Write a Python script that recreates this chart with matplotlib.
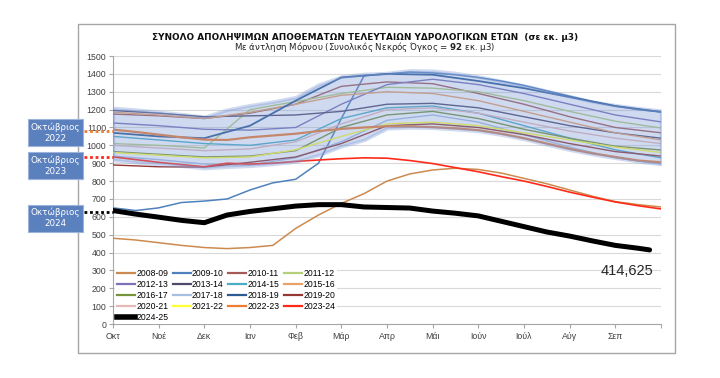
import numpy as np
import matplotlib
matplotlib.use("Agg")
import matplotlib.pyplot as plt
from matplotlib.patches import Rectangle
from matplotlib.lines import Line2D
import matplotlib.transforms as mtransforms

# ---------------- data ----------------
month_labels = ["Οκτ", "Νοέ", "Δεκ", "Ιαν", "Φεβ", "Μάρ", "Απρ", "Μάι", "Ιούν", "Ιούλ", "Αύγ", "Σεπ"]
months = list(range(13))                       # monthly grid (Oct 1 .. Sep 30)
half = [i * 0.5 for i in range(25)]            # half-month grid

band_high = [1210, 1200, 1188, 1175, 1160, 1200, 1225, 1245, 1270, 1340, 1385, 1400, 1405,
             1420, 1418, 1405, 1385, 1360, 1335, 1305, 1275, 1245, 1225, 1208, 1195]
band_low = [918, 905, 895, 885, 872, 880, 885, 895, 910, 945, 995, 1030, 1095,
            1100, 1098, 1090, 1080, 1060, 1035, 1005, 975, 950, 930, 910, 895]

y2008_09 = [480, 470, 455, 440, 428, 422, 428, 440, 535, 610, 675, 730, 800,
            840, 862, 872, 865, 845, 815, 785, 750, 715, 685, 668, 655]
y2009_10 = [650, 635, 650, 680, 688, 700, 750, 790, 810, 900, 1150, 1390, 1400,
            1410, 1405, 1395, 1380, 1360, 1335, 1305, 1275, 1245, 1220, 1200, 1187]
y2022_23 = [1088, 1075, 1060, 1045, 1032, 1030, 1045, 1055, 1065, 1080, 1092, 1100, 1107,
            1106, 1102, 1095, 1085, 1065, 1040, 1010, 980, 955, 935, 915, 905]
y2023_24 = [935, 920, 905, 892, 880, 900, 895, 900, 910, 918, 925, 930, 928,
            915, 898, 875, 852, 825, 800, 770, 738, 710, 683, 662, 644]
x2024_25 = [0, 0.5, 1, 1.5, 2, 2.5, 3, 3.5, 4, 4.5, 5, 5.5, 6, 6.5, 7, 7.5, 8,
            8.5, 9, 9.5, 10, 10.5, 11, 11.5, 11.75]
y2024_25 = [635, 615, 598, 580, 567, 610, 630, 645, 660, 668, 668, 655, 652,
            649, 632, 620, 605, 575, 545, 515, 492, 465, 440, 424, 414.625]

y2010_11 = [1175, 1165, 1150, 1180, 1230, 1330, 1355, 1345, 1290, 1230, 1160, 1100, 1070]
y2011_12 = [1010, 1000, 985, 1200, 1245, 1290, 1325, 1320, 1300, 1250, 1190, 1135, 1097]
y2012_13 = [1125, 1110, 1090, 1085, 1100, 1230, 1340, 1370, 1340, 1290, 1230, 1170, 1131]
y2013_14 = [1195, 1180, 1160, 1165, 1170, 1190, 1230, 1235, 1210, 1160, 1110, 1070, 1040]
y2014_15 = [1050, 1030, 1010, 1000, 1030, 1150, 1210, 1220, 1180, 1110, 1040, 975, 930]
y2015_16 = [1185, 1170, 1150, 1185, 1230, 1280, 1300, 1290, 1250, 1190, 1130, 1070, 1030]
y2016_17 = [965, 950, 935, 940, 970, 1100, 1170, 1190, 1150, 1090, 1040, 995, 974]
y2017_18 = [940, 920, 895, 890, 930, 1020, 1140, 1170, 1130, 1060, 990, 930, 895]
y2018_19 = [1070, 1050, 1040, 1110, 1250, 1380, 1400, 1395, 1360, 1320, 1270, 1220, 1187]
y2019_20 = [890, 880, 878, 905, 935, 1010, 1110, 1120, 1100, 1060, 1010, 965, 940]
y2020_21 = [1000, 985, 970, 980, 1020, 1120, 1200, 1210, 1180, 1130, 1080, 1040, 1010]
y2021_22 = [960, 945, 930, 935, 975, 1050, 1120, 1130, 1110, 1070, 1030, 990, 960]

oct_labels = ["Οκτώβριος\n2022", "Οκτώβριος\n2023", "Οκτώβριος\n2024"]
oct_marks = [1082, 935, 628]
final_label = "414,625"

# ---------------- styling ----------------
series = [
    ("2008-09", half, y2008_09, "#CC8A4E", 1.1),
    ("2009-10", half, y2009_10, "#4F81BD", 1.1),
    ("2010-11", months, y2010_11, "#A65A58", 1.0),
    ("2011-12", months, y2011_12, "#B5CF7A", 1.0),
    ("2012-13", months, y2012_13, "#7A73B5", 1.0),
    ("2013-14", months, y2013_14, "#4E4A6B", 1.0),
    ("2014-15", months, y2014_15, "#4BACC6", 1.0),
    ("2015-16", months, y2015_16, "#E9A36A", 1.0),
    ("2016-17", months, y2016_17, "#77933C", 1.0),
    ("2017-18", months, y2017_18, "#A6BFE0", 1.0),
    ("2018-19", months, y2018_19, "#2C5A93", 1.3),
    ("2019-20", months, y2019_20, "#953735", 1.0),
    ("2020-21", months, y2020_21, "#E6B9B8", 1.0),
    ("2021-22", months, y2021_22, "#FFFF33", 1.0),
    ("2022-23", half, y2022_23, "#ED7D31", 1.6),
    ("2023-24", half, y2023_24, "#FF2A1A", 1.2),
    ("2024-25", x2024_25, y2024_25, "#000000", 3.6),
]

fig = plt.figure(figsize=(7.2, 3.78), dpi=100)
ax = fig.add_axes([113 / 720, 1 - 324 / 378, 548 / 720, 268 / 378])

handles = []
for name, xs, ys, col, lw in series:
    z = 5 if name == "2024-25" else 3
    ax.plot(xs, ys, color=col, lw=lw, zorder=z, solid_capstyle="round")
    handles.append(Line2D([], [], color=col, lw=(4.0 if name == "2024-25" else 1.6)))

# soft-edged translucent range band
ax.fill_between(half, band_low, band_high, color="#7C9AD6", alpha=0.36, lw=2.5,
                edgecolor=(0.49, 0.60, 0.84, 0.15), zorder=4)

ax.set_xlim(0, 12)
ax.set_ylim(0, 1500)
ax.set_yticks(range(0, 1501, 100))
ax.set_xticks(range(13))
ax.set_xticklabels(month_labels + [""])
ax.grid(axis="y", color="#D9D9D9", lw=0.8, zorder=0)
for s in ["top", "right"]:
    ax.spines[s].set_visible(False)
for s in ["left", "bottom"]:
    ax.spines[s].set_color("#A6A6A6")
    ax.spines[s].set_linewidth(0.8)
ax.tick_params(axis="both", colors="#A6A6A6", length=3, width=0.8, labelsize=6.3,
               labelcolor="#404040")
ax.tick_params(axis="y", length=3, pad=2)
ax.tick_params(axis="x", pad=3)
for lab in ax.get_xticklabels() + ax.get_yticklabels():
    lab.set_family("Liberation Sans")

# legend (row-wise order like Excel)
names = [s[0] for s in series]
order = [0, 4, 8, 12, 16, 1, 5, 9, 13, 2, 6, 10, 14, 3, 7, 11, 15]
leg = ax.legend([handles[i] for i in order], [names[i] for i in order], ncol=4,
                loc="upper left", bbox_to_anchor=(0.004, 0.21), borderaxespad=0,
                prop={"family": "Liberation Sans", "size": 6.2}, frameon=True,
                facecolor="white", edgecolor="none", framealpha=1, fancybox=False,
                handlelength=2.1, handletextpad=0.15, columnspacing=0.5,
                labelspacing=0.22, borderpad=0.2)
leg.set_zorder(6)

# final value label
ax.text(11.25, 297, final_label, ha="center", va="center", fontsize=10.5,
        family="Liberation Sans", color="#262626", zorder=7)

# title
fig.text(365 / 720, 1 - 37 / 378, "ΣΥΝΟΛΟ ΑΠΟΛΗΨΙΜΩΝ ΑΠΟΘΕΜΑΤΩΝ ΤΕΛΕΥΤΑΙΩΝ ΥΔΡΟΛΟΓΙΚΩΝ ΕΤΩΝ  (σε εκ. μ3)",
         ha="center", va="center", fontsize=6.4, fontweight="bold", color="#111111")
fig.text(365 / 720, 1 - 47.5 / 378,
         "Με άντληση Μόρνου (Συνολικός Νεκρός Όγκος = $\\mathbf{92}$ εκ. μ3)",
         ha="center", va="center", fontsize=6.2, color="#222222")

# chart frame
fig.patches.append(Rectangle((78 / 720, 1 - 353 / 378), 597 / 720, 329 / 378,
                             transform=fig.transFigure, fill=False,
                             edgecolor="#A6A6A6", lw=1.0, zorder=0))

# October annotation boxes and dotted markers
mark_cols = ["#ED7D31", "#FF2A1A", "#000000"]
box_cy = [132.5, 165.5, 218]
trans = mtransforms.blended_transform_factory(ax.transAxes, ax.transData)
for lab, val, col, cy in zip(oct_labels, oct_marks, mark_cols, box_cy):
    fig.patches.append(Rectangle((28 / 720, 1 - (cy + 13.5) / 378), 55 / 720, 27 / 378,
                                 transform=fig.transFigure, facecolor="#5B80BE",
                                 edgecolor="#9DB3DC", lw=0.8, zorder=2))
    fig.text(55.5 / 720, 1 - cy / 378, lab, ha="center", va="center", fontsize=6.3,
             color="white", linespacing=1.25, family="DejaVu Sans")
    ax.plot([-(113 - 84) / 548, 0], [val, val], transform=trans, clip_on=False,
            color=col, lw=2.0, ls=(0, (1, 1)), zorder=8)

fig.savefig("out.png", dpi=100)
